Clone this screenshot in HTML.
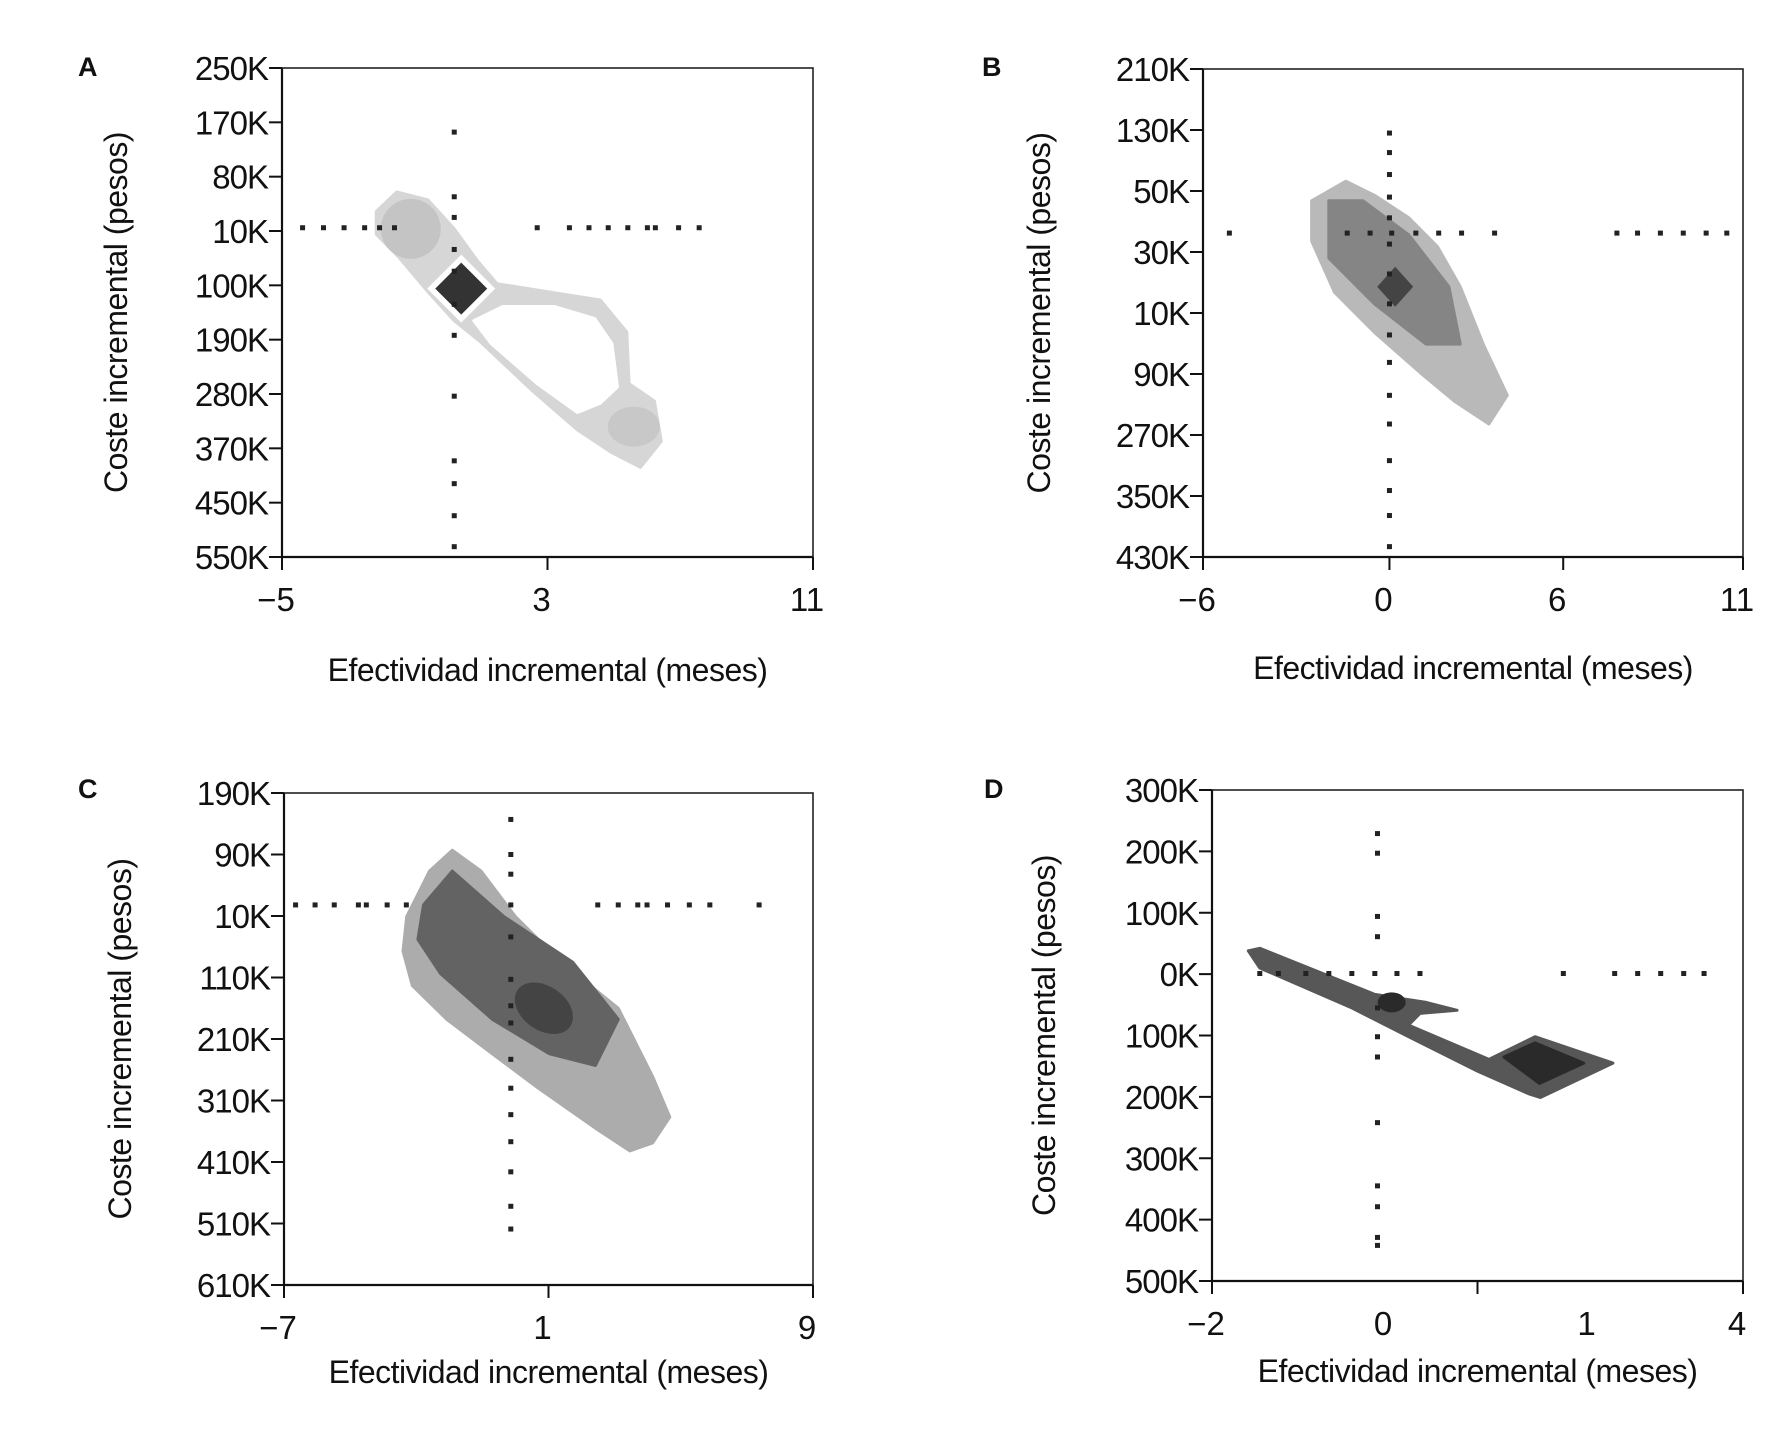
<!DOCTYPE html>
<html><head><meta charset="utf-8"><style>
html,body{margin:0;padding:0;background:#fff;}
svg{display:block;font-family:"Liberation Sans",Arial,sans-serif;}
</style></head><body>
<svg id="chart" width="1787" height="1437" viewBox="0 0 1787 1437"></svg>
<script>
// ---------- DATA ----------
const yLabelsA = ["250K","170K","80K","10K","100K","190K","280K","370K","450K","550K"];
const yLabelsB = ["210K","130K","50K","30K","10K","90K","270K","350K","430K"];
const yLabelsC = ["190K","90K","10K","110K","210K","310K","410K","510K","610K"];
const yLabelsD = ["300K","200K","100K","0K","100K","200K","300K","400K","500K"];
const xTicksA = [-5,3,11], xTickLabelsA = ["\u22125","3","11"];
const xTicksB = [-6,-0.13,5.34,11], xTickLabelsB = ["\u22126","0","6","11"];
const xTicksC = [-7,1,9], xTickLabelsC = ["\u22127","1","9"];
const xTicksD = [-2,1,4], xLabelPosD = [-2,0,2.3,4], xTickLabelsD = ["\u22122","0","1","4"];

const hDotsA_x = [-4.38,-3.75,-3.13,-2.51,-2.06,-1.61,2.69,3.66,4.25,4.83,5.42,6.01,6.25,6.95,7.57];
const hDotsA_y = 2.94;
const vDotsA_y = [1.18,2.37,2.75,3.34,3.74,4.35,4.92,6.04,7.23,7.65,8.24,8.81];
const vDotsA_x = 0.19;
const hDotsB_x = [-5.17,-1.46,-0.74,-0.06,0.70,1.42,2.14,3.18,7.03,7.68,8.40,9.12,9.84,10.49];
const hDotsB_y = 2.69;
const vDotsB_y = [1.05,1.37,1.73,2.10,2.44,2.87,3.36,3.85,4.36,4.81,5.35,5.82,6.42,6.91,7.32,7.83];
const vDotsB_x = -0.13;
const hDotsC_x = [-6.65,-6.06,-5.48,-4.75,-4.51,-3.88,-3.30,2.49,3.11,3.70,3.98,4.60,5.26,5.88,7.37];
const hDotsC_y = 1.82;
const vDotsC_y = [0.43,1.00,1.32,1.82,2.34,3.03,3.46,3.74,4.33,4.80,5.23,5.67,6.16,6.72,7.09];
const vDotsC_x = -0.14;
const hDotsD_x = [-1.46,-1.25,-0.94,-0.68,-0.42,-0.16,0.09,0.35,1.97,2.55,2.81,3.07,3.33,3.56];
const hDotsD_y = 2.99;
const vDotsD_y = [0.71,1.03,2.06,2.39,3.55,4.02,4.35,5.42,6.45,6.79,7.29,7.42];
const vDotsD_x = -0.13;

const blobA_x = [-2.16,-1.54,-0.60,0.19,0.89,1.48,3.03,4.59,5.39,5.46,6.22,6.43,5.80,4.94,3.90,2.51,0.96,0.19,-0.60,-1.47,-2.16];
const blobA_y = [2.64,2.28,2.43,2.96,3.55,3.97,4.12,4.27,4.86,5.81,6.13,6.87,7.35,7.08,6.66,5.92,5.03,4.65,4.12,3.49,3.06];
const holeA_x = [1.65,3.21,4.42,4.94,5.11,4.59,3.90,2.69,1.30,0.78];
const holeA_y = [4.39,4.39,4.61,5.07,5.87,6.17,6.34,5.81,5.07,4.65];
const diamondA = [0.40,4.06];
const blobB_x = [-2.58,-1.50,-0.60,0.48,1.38,2.10,2.82,3.58,3.00,1.92,0.84,-0.60,-1.86,-2.58];
const blobB_y = [2.16,1.84,2.07,2.44,2.91,3.57,4.51,5.35,5.82,5.45,4.98,4.32,3.66,2.82];
const coreB_x = [-2.04,-0.96,0.48,1.74,2.10,1.02,-0.60,-2.04];
const coreB_y = [2.16,2.16,2.72,3.57,4.51,4.51,3.85,3.10];
const diamondB = [0.05,3.57];
const blobC_x = [-3.29,-2.60,-1.91,-1.04,0.00,1.38,3.11,4.15,4.67,4.15,3.46,2.42,0.69,-0.70,-2.08,-3.12,-3.40];
const blobC_y = [2.01,1.27,0.93,1.27,2.01,2.75,3.50,4.61,5.27,5.69,5.82,5.45,4.80,4.24,3.68,3.13,2.57];
const coreC_x = [-2.78,-1.91,-0.35,1.73,3.11,2.42,1.03,-0.70,-2.26,-2.95];
const coreC_y = [1.82,1.27,2.01,2.75,3.68,4.43,4.24,3.68,2.94,2.38];
const centerC = [0.86,3.50];
const blobD_x = [-1.59,-1.46,-0.16,0.42,0.77,0.35,0.22,1.13,1.65,2.53,1.71,1.58,1.00,0.22,-0.42,-1.46];
const blobD_y = [2.62,2.58,3.33,3.46,3.59,3.64,3.83,4.39,4.02,4.45,5.01,4.95,4.58,4.02,3.55,2.90];
const coreD_x = [1.30,1.65,2.20,1.70];
const coreD_y = [4.35,4.12,4.45,4.78];
const spotD = [0.03,3.46];

// ---------- DRAW ----------
const NS="http://www.w3.org/2000/svg";
const svg=document.getElementById('chart');
function mk(tag,attrs,parent){const e=document.createElementNS(NS,tag);for(const k in attrs)e.setAttribute(k,attrs[k]);(parent||svg).appendChild(e);return e;}

function panel(id,P){
  const g=mk('g',{});
  
  
  const sx=v=>P.L+(v-P.xmin)/(P.xmax-P.xmin)*(P.R-P.L);
  const sy=i=>P.T+i/(P.yl.length-1)*(P.B-P.T);
  const poly=(xs,ys,fill,name)=>{const pts=xs.map((x,i)=>sx(x).toFixed(1)+','+sy(ys[i]).toFixed(1)).join(' ');
    const p=mk('polygon',{points:pts,fill:fill,stroke:fill,'stroke-width':3,'stroke-linejoin':'round'},g);
    
    return p;};
  P.draw(sx,sy,poly,g);
  P.hx.forEach(x=>{const r=mk('rect',{x:sx(x)-2.5,y:sy(P.hy)-2.5,width:5,height:5,fill:'#222'},g);
    
    });
  P.vy.forEach(y=>{const r=mk('rect',{x:sx(P.vx)-2.5,y:sy(y)-2.5,width:5,height:5,fill:'#222'},g);
    
    });
  const f=mk('rect',{x:P.L,y:P.T,width:P.R-P.L,height:P.B-P.T,fill:'none',stroke:'#222','stroke-width':1.6},g);
  
  
  mk('line',{x1:P.L,y1:P.T,x2:P.L,y2:P.B,stroke:'#111','stroke-width':2.2},g);
  mk('line',{x1:P.L,y1:P.B,x2:P.R,y2:P.B,stroke:'#111','stroke-width':2.2},g);
  P.yl.forEach((t,i)=>{mk('line',{x1:P.L-13,y1:sy(i),x2:P.L,y2:sy(i),stroke:'#111','stroke-width':2},g);
    const tx=mk('text',{x:P.L-14,y:sy(i)+12,'text-anchor':'end','font-size':33,fill:'#111','letter-spacing':-1},g);tx.textContent=t;
    
    });
  P.xt.forEach(v=>mk('line',{x1:sx(v),y1:P.B,x2:sx(v),y2:P.B+13,stroke:'#111','stroke-width':2},g));
  P.xlp.forEach((v,i)=>{const tx=mk('text',{x:sx(v)-6,y:P.B+54,'text-anchor':'middle','font-size':33,fill:'#111'},g);tx.textContent=P.xtl[i];
    
    });
  const xt=mk('text',{x:(P.L+P.R)/2,y:P.B+P.xTitleDy,'text-anchor':'middle','font-size':32,fill:'#111','letter-spacing':-0.5},g);
  xt.textContent='Efectividad incremental (meses)';
  
  
  const yc=(P.T+P.B)/2;
  const yt=mk('text',{x:P.yTitleX,y:yc,'text-anchor':'middle','font-size':32,fill:'#111','letter-spacing':-0.5,transform:'rotate(-90 '+P.yTitleX+' '+yc+')'},g);
  yt.textContent='Coste incremental (pesos)';
  
  
  const lt=mk('text',{x:P.lx,y:P.ly,'font-size':27,'font-weight':'bold',fill:'#111'},g);
  lt.textContent=id;
  
  
}
function diamond(sx,sy,c,hw,hh,fill,g,name){
  const x=sx(c[0]),y=sy(c[1]);
  const p=mk('polygon',{points:`${x},${y-hh} ${x+hw},${y} ${x},${y+hh} ${x-hw},${y}`,fill:fill},g);
  
  
}

panel('A',{L:282,R:813,T:68,B:557,xmin:-5,xmax:11,yl:yLabelsA,xt:xTicksA,xlp:xTicksA,xtl:xTickLabelsA,
  hx:hDotsA_x,hy:hDotsA_y,vx:vDotsA_x,vy:vDotsA_y,xTitleDy:124,yTitleX:127,lx:78,ly:76,
  draw:(sx,sy,poly,g)=>{poly(blobA_x,blobA_y,'#d6d6d6','density-region');poly(holeA_x,holeA_y,'#ffffff','density-hole');
    mk('ellipse',{cx:sx(-1.12),cy:sy(2.96),rx:30,ry:30,fill:'#c4c4c4'},g);
    mk('ellipse',{cx:sx(5.6),cy:sy(6.6),rx:26,ry:20,fill:'#c8c8c8'},g);
    diamond(sx,sy,diamondA,34,34,'#fff',g,'diamond-halo');
    diamond(sx,sy,diamondA,26,26,'#333',g,'mean-diamond');}});
panel('B',{L:1203,R:1743,T:69,B:557,xmin:-6,xmax:11,yl:yLabelsB,xt:xTicksB,xlp:xTicksB,xtl:xTickLabelsB,
  hx:hDotsB_x,hy:hDotsB_y,vx:vDotsB_x,vy:vDotsB_y,xTitleDy:122,yTitleX:1050,lx:982,ly:76,
  draw:(sx,sy,poly,g)=>{poly(blobB_x,blobB_y,'#b9b9b9','density-region');poly(coreB_x,coreB_y,'#858585','density-core');
    diamond(sx,sy,diamondB,18,20,'#444',g,'mean-diamond');}});
panel('C',{L:284,R:813,T:793,B:1285,xmin:-7,xmax:9,yl:yLabelsC,xt:xTicksC,xlp:xTicksC,xtl:xTickLabelsC,
  hx:hDotsC_x,hy:hDotsC_y,vx:vDotsC_x,vy:vDotsC_y,xTitleDy:98,yTitleX:131,lx:78,ly:798,
  draw:(sx,sy,poly,g)=>{poly(blobC_x,blobC_y,'#acacac','density-region');poly(coreC_x,coreC_y,'#636363','density-core');
    mk('ellipse',{cx:sx(centerC[0]),cy:sy(centerC[1]),rx:32,ry:22,fill:'#444',transform:`rotate(35 ${sx(centerC[0])} ${sy(centerC[1])})`},g);}});
panel('D',{L:1212,R:1743,T:790,B:1281,xmin:-2,xmax:4,yl:yLabelsD,xt:xTicksD,xlp:xLabelPosD,xtl:xTickLabelsD,
  hx:hDotsD_x,hy:hDotsD_y,vx:vDotsD_x,vy:vDotsD_y,xTitleDy:101,yTitleX:1055,lx:984,ly:798,
  draw:(sx,sy,poly,g)=>{poly(blobD_x,blobD_y,'#575757','density-region');poly(coreD_x,coreD_y,'#2a2a2a','density-core');
    mk('ellipse',{cx:sx(spotD[0]),cy:sy(spotD[1]),rx:14,ry:10,fill:'#2a2a2a'},g);}});
</script>
</body></html>
